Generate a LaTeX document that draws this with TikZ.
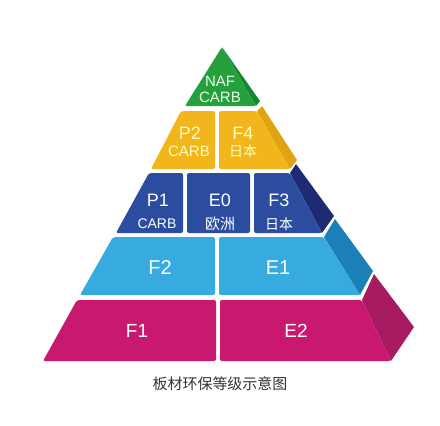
\documentclass[tikz,border=0pt]{standalone}
\usepackage{fontspec}
\setmainfont{Liberation Sans}
\newfontfamily\cjk{Noto Sans CJK SC}
\definecolor{greenF}{HTML}{24A03C}
\definecolor{greenS}{HTML}{178534}
\definecolor{yellowF}{HTML}{F2B61C}
\definecolor{yellowS}{HTML}{E0A312}
\definecolor{navyF}{HTML}{2C4D9F}
\definecolor{navyS}{HTML}{1E2A74}
\definecolor{cyanF}{HTML}{37AADF}
\definecolor{cyanS}{HTML}{1B80B5}
\definecolor{magF}{HTML}{C8196E}
\definecolor{magS}{HTML}{A81B62}
\definecolor{capgrey}{HTML}{333333}
\tikzset{
  face/.style={rounded corners=2pt},
  big/.style={text=white, inner sep=0pt, font=\fontsize{19}{19}\selectfont},
  mid/.style={text=white, inner sep=0pt, font=\fontsize{18}{18}\selectfont},
  small/.style={text=white, inner sep=0pt, font=\fontsize{14}{14}\selectfont},
  smallcjk/.style={text=white, inner sep=0pt, font=\cjk\fontsize{14}{14}\selectfont},
}
\begin{document}
\begin{tikzpicture}[x=1pt,y=-1pt]
\useasboundingbox[fill=white] (0,0) rectangle (440,426);
% side faces
\fill[greenS] (222,47) -- (260,101) -- (256,106) -- cycle;
\fill[yellowS] (257,111) -- (262,106) -- (297,160) -- (290,169) -- cycle;
\fill[navyS] (290,173) -- (296,164) -- (334,216) -- (322,233) -- cycle;
\fill[cyanS] (324,237) -- (335,219) -- (373,271) -- (360,295) -- cycle;
\fill[magS] (362,300) -- (374,274) -- (414,327) -- (391,361) -- cycle;
% green
\fill[greenF, rounded corners=1.5pt] (222,47) -- (256,106) -- (185,106) -- cycle;
% yellow
\fill[yellowF, face] (181,111) -- (215,111) -- (215,169) -- (151,169) -- cycle;
\fill[yellowF, face] (219,111) -- (257,111) -- (290,169) -- (219,169) -- cycle;
% navy
\fill[navyF, face] (149,173) -- (183,173) -- (183,233) -- (116,233) -- cycle;
\fill[navyF, face] (187,173) -- (250,173) -- (250,233) -- (187,233) -- cycle;
\fill[navyF, face] (254,173) -- (290,173) -- (322,233) -- (254,233) -- cycle;
% cyan
\fill[cyanF, face] (113,237) -- (215,237) -- (215,295) -- (80,295) -- cycle;
\fill[cyanF, face] (219,237) -- (324,237) -- (360,295) -- (219,295) -- cycle;
% magenta
\fill[magF, face] (77,300) -- (216,300) -- (216,361) -- (43,361) -- cycle;
\fill[magF, face] (220,300) -- (362,300) -- (391,361) -- (220,361) -- cycle;
% labels
\node[small, font=\fontsize{15}{15}\selectfont, text=green!8!white] (naf) at (220,81) {NAF};
\node[small, font=\fontsize{15}{15}\selectfont, text=green!8!white] (carbA) at (220,97) {CARB};
\node[mid, text=yellow!25!white] (p2) at (190,133) {P2};
\node[small, font=\fontsize{15}{15}\selectfont, text=yellow!25!white] (carbB) at (189,151) {CARB};
\node[mid, text=yellow!25!white] (f4) at (243,133) {F4};
\node[smallcjk, text=yellow!25!white] (jpA) at (243,151) {日本};
\node[mid] (p1) at (158,200) {P1};
\node[small] (carbC) at (157,224) {CARB};
\node[mid] (e0) at (220,200) {E0};
\node[smallcjk, font=\cjk\fontsize{15}{15}\selectfont] (eu) at (220,224) {欧洲};
\node[mid] (f3) at (279,200) {F3};
\node[smallcjk] (jpB) at (279,224) {日本};
\node[big, font=\fontsize{20}{20}\selectfont] (f2) at (160,268) {F2};
\node[big, font=\fontsize{20}{20}\selectfont] (e1) at (278,268) {E1};
\node[big] (f1) at (137,331) {F1};
\node[big] (e2) at (296,331) {E2};
\node[inner sep=0pt, text=capgrey, font=\cjk\fontsize{15}{15}\selectfont] (cap) at (220,384) {板材环保等级示意图};
\end{tikzpicture}
\end{document}
